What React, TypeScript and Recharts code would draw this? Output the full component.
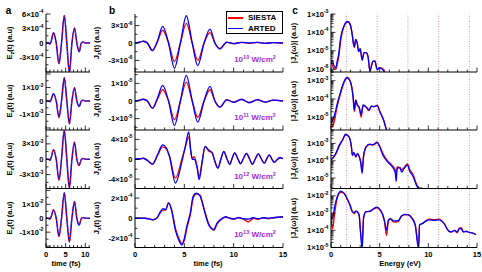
import { LineChart, Line, XAxis, YAxis, ReferenceLine } from 'recharts'

const FONT = '"Liberation Sans", Arial, Helvetica, sans-serif'
const RED = '#ff0000'
const BLUE = '#0000ff'
const PURPLE = '#9b30d9'

// ---- a: driving field E_z(t) (same pulse in both codes) ----
const timeA = [0, 0.6, 1.0, 1.3, 1.9, 2.6, 3.3, 3.95, 4.65, 5.3, 5.95, 6.6, 7.25, 7.85, 8.45, 9.0, 9.5, 10.0, 11.2]
const fieldA10 = [0, 0, -2e-5, 3e-5, 2.1e-4, 0, -4.3e-4, 0, 5.7e-4, 0, -6.2e-4, 0, 3.1e-4, 0, -1.8e-4, 0, 2e-5, 0, 0]
const fieldA11 = [0, 0, -5e-5, 1e-4, 5.4e-4, 0, -1.21e-3, 0, 1.72e-3, 0, -1.7e-3, 0, 9.8e-4, 0, -4e-4, 0, 5e-5, 0, 0]
const fieldA12 = [0, 0, -2e-4, 3e-4, 1.86e-3, 0, -4.1e-3, 0, 5.7e-3, 0, -5.6e-3, 0, 3.3e-3, 0, -1.2e-3, 0, 1.5e-4, 0, 0]
const fieldA13 = [0, 0, -6e-4, 1e-3, 6e-3, 0, -1.3e-2, 0, 1.83e-2, 0, -1.7e-2, 0, 1.2e-2, 0, -4.9e-3, 0, 5e-4, 0, 0]

// ---- b: current J_z(t) ----
const timeB = [0, 0.5, 0.85, 1.25, 1.77, 2.27, 2.8, 3.4, 4.0, 4.6, 5.2, 5.8, 6.36, 7.0, 7.6, 8.1, 8.6, 9.3, 10.0, 10.8, 11.6, 12.4, 13.2, 14.0, 15]
const siestaB10 = [0, 0.15e-6, 0.3e-6, 0, -1.3e-6, 0.2e-6, 2.2e-6, 0, -3.2e-6, 0, 3.4e-6, 0, -3.0e-6, 0, 1.8e-6, 0, -1.0e-6, 0.1e-6, -0.1e-6, 0.1e-6, -0.05e-6, 0.1e-6, -0.05e-6, 0.05e-6, 0]
const artedB10 = [0, 0.15e-6, 0.3e-6, 0, -1.3e-6, 0.3e-6, 2.85e-6, 0, -4.35e-6, 0, 4.7e-6, 0, -3.9e-6, 0, 2.4e-6, 0, -1.0e-6, 0.15e-6, -0.1e-6, 0.1e-6, 0, 0.1e-6, -0.05e-6, 0.05e-6, 0]
const siestaB11 = [0, 0.05e-5, 0.1e-5, 0, -0.41e-5, 0.1e-5, 0.64e-5, 0, -1.06e-5, 0, 1.07e-5, 0, -0.93e-5, 0, 0.64e-5, 0, -0.35e-5, 0.05e-5, -0.05e-5, 0.08e-5, -0.08e-5, 0.06e-5, -0.06e-5, 0.05e-5, 0]
const artedB11 = [0, 0.05e-5, 0.1e-5, 0, -0.41e-5, 0.15e-5, 0.89e-5, 0, -1.4e-5, 0, 1.46e-5, 0, -1.2e-5, 0, 0.83e-5, 0, -0.35e-5, 0.08e-5, -0.08e-5, 0.1e-5, -0.1e-5, 0.08e-5, -0.06e-5, 0.05e-5, 0]

const timeB12 = [0, 0.5, 0.85, 1.3, 1.77, 2.3, 2.8, 3.2, 3.5, 4.1, 4.75, 5.1, 5.45, 5.65, 5.8, 6.0, 6.3, 6.5, 6.8, 7.1, 7.5, 7.8, 8.1, 8.4, 8.7, 9.0, 9.3, 9.6, 9.85, 10.1, 10.4, 10.7, 11.0, 11.3, 11.6, 11.9, 12.2, 12.5, 12.8, 13.1, 13.35, 13.6, 13.85, 14.1, 14.4, 14.7, 15]
const siestaB12 = [0, 0.1e-5, 0.2e-5, -0.3e-5, -1.0e-5, 0.8e-5, 2.5e-5, 2.0e-5, 0.6e-5, -3.8e-5, 0, 2.4e-5, 4.5e-5, 1.6e-5, 0.2e-5, 0.5e-5, -1.5e-5, -3.5e-5, -0.5e-5, 2.5e-5, 1.6e-5, 1.3e-5, -0.5e-5, -1.8e-5, 0, 1.5e-5, 0.2e-5, -1.0e-5, 0.2e-5, 1.3e-5, 0.2e-5, -0.9e-5, 0.2e-5, 1.2e-5, 0.1e-5, -1.0e-5, 0.1e-5, 1.1e-5, 0.1e-5, -0.8e-5, 0.1e-5, 0.9e-5, 0.1e-5, -0.6e-5, -0.1e-5, 0.3e-5, 0.1e-5]
const artedB12 = [0, 0.1e-5, 0.2e-5, -0.3e-5, -1.0e-5, 1.0e-5, 2.9e-5, 2.2e-5, 0.5e-5, -4.8e-5, -0.5e-5, 2.6e-5, 5.5e-5, 1.8e-5, 0, 0, -1.8e-5, -4.1e-5, -0.7e-5, 2.6e-5, 1.8e-5, 1.4e-5, -0.4e-5, -1.8e-5, 0, 1.6e-5, 0.2e-5, -1.0e-5, 0.2e-5, 1.3e-5, 0.2e-5, -0.9e-5, 0.2e-5, 1.2e-5, 0.1e-5, -1.0e-5, 0.1e-5, 1.1e-5, 0.1e-5, -0.8e-5, 0.1e-5, 0.9e-5, 0.1e-5, -0.6e-5, -0.1e-5, 0.3e-5, 0.1e-5]

const timeB13 = [0, 1.0, 1.5, 1.8, 2.2, 2.6, 2.85, 3.1, 3.4, 3.7, 4.1, 4.45, 4.75, 5.0, 5.25, 5.6, 5.9, 6.2, 6.6, 6.85, 7.1, 7.5, 8.0, 8.3, 8.7, 9.2, 9.6, 10.0, 10.5, 11.0, 11.5, 12.0, 12.5, 13.0, 13.5, 14.0, 14.5, 15]
const siestaB13 = [0, 0, -0.08e-4, -0.15e-4, 0, 0.6e-4, 0.8e-4, 0.8e-4, 1.55e-4, 0.9e-4, -1.0e-4, -2.0e-4, -2.5e-4, -2.2e-4, -1.0e-4, 0.3e-4, 2.0e-4, 2.4e-4, 2.3e-4, 1.5e-4, 0.6e-4, -0.6e-4, -1.2e-4, -0.6e-4, -0.15e-4, 0.1e-4, 0, -0.1e-4, 0.08e-4, -0.1e-4, -0.35e-4, 0, -0.1e-4, 0.05e-4, -0.05e-4, 0.05e-4, 0.1e-4, 0.12e-4]
const artedB13 = [0, 0, -0.08e-4, -0.15e-4, 0, 0.7e-4, 0.95e-4, 0.85e-4, 1.5e-4, 0.8e-4, -1.2e-4, -2.2e-4, -2.65e-4, -2.0e-4, -0.8e-4, 0.5e-4, 2.2e-4, 2.5e-4, 2.2e-4, 1.4e-4, 0.5e-4, -0.7e-4, -1.1e-4, -0.5e-4, -0.1e-4, 0.15e-4, 0, -0.05e-4, 0.05e-4, -0.05e-4, -0.08e-4, 0.05e-4, -0.05e-4, 0.05e-4, 0, 0.05e-4, 0.1e-4, 0.15e-4]

// ---- c: spectra |J_z(w)| ----
const harmonics = [1.58, 4.74, 7.9, 11.06, 14.22]

const energyC10 = [0, 0.15, 0.3, 0.5, 0.65, 0.8, 0.96, 1.13, 1.37, 1.71, 1.99, 2.16, 2.33, 2.4, 2.54, 2.7, 2.84, 3.0, 3.2, 3.4, 3.6, 3.8, 4.0, 4.3, 4.5, 4.75, 5.0, 5.4, 5.7]
const siestaC10 = [2.6e-6, 1.5e-6, 1.1e-6, 1e-6, 2e-6, 5e-6, 2.5e-5, 9e-5, 2.3e-4, 3.8e-4, 2.5e-4, 9e-5, 2.1e-5, 1.5e-5, 4e-5, 2.5e-5, 9e-6, 1.3e-5, 3e-6, 8e-6, 8e-6, 5e-6, 8e-7, 2.6e-6, 2.8e-6, 1e-6, 1.2e-6, 1e-6, 3e-7]
const artedC10 = [2e-6, 3e-6, 1.5e-6, 1.2e-6, 3e-6, 7e-6, 3.9e-5, 1.1e-4, 2.5e-4, 3.9e-4, 2.5e-4, 9e-5, 2.1e-5, 1.7e-5, 4.2e-5, 2.5e-5, 9e-6, 1.3e-5, 3.2e-6, 8e-6, 8e-6, 5e-6, 8e-7, 2.6e-6, 2.8e-6, 9e-7, 1.2e-6, 8e-7, 3e-7]

const energyC11 = [0, 0.15, 0.3, 0.45, 0.66, 0.96, 1.3, 1.65, 2.0, 2.27, 2.4, 2.54, 2.7, 2.9, 3.1, 3.3, 3.65, 3.9, 4.15, 4.4, 4.75, 5.0, 5.4, 5.65, 5.9]
const siestaC11 = [9e-6, 3e-6, 5e-6, 1.2e-5, 4.5e-5, 1.8e-4, 7e-4, 1.45e-3, 8.6e-4, 1.3e-4, 2e-5, 8.5e-5, 4.5e-5, 3.2e-5, 1e-5, 4.5e-5, 3.3e-5, 2.3e-5, 4e-5, 3.8e-5, 4.3e-5, 2e-5, 7e-6, 2.5e-6, 1e-6]
const artedC11 = [9e-6, 6e-6, 1.1e-5, 2e-5, 6e-5, 2.2e-4, 8e-4, 1.5e-3, 8.6e-4, 1.3e-4, 2.5e-5, 8.9e-5, 4.8e-5, 3.5e-5, 1.4e-5, 4.8e-5, 3.5e-5, 2.5e-5, 4e-5, 3.8e-5, 4.5e-5, 2.2e-5, 7e-6, 2.5e-6, 1e-6]

const energyC12 = [0, 0.15, 0.5, 0.85, 1.2, 1.5, 1.85, 2.1, 2.2, 2.35, 2.55, 2.7, 2.9, 3.05, 3.2, 3.35, 3.6, 3.95, 4.3, 4.75, 5.0, 5.35, 5.8, 6.1, 6.4, 6.6, 6.7, 6.8, 7.1, 7.25, 7.5, 7.85, 8.1, 8.45, 8.75, 9.0, 9.3, 9.6]
const siestaC12 = [1.1e-4, 1.3e-4, 2.5e-4, 7e-4, 1.6e-3, 3e-3, 2.4e-3, 6e-4, 2e-4, 2.8e-4, 1.7e-4, 2.5e-4, 1.7e-4, 9e-5, 3e-5, 2e-4, 6e-4, 8.5e-4, 8e-4, 1.1e-3, 7e-4, 2.5e-4, 1e-4, 7e-5, 4.5e-5, 3e-5, 1.5e-5, 4.5e-5, 4e-5, 3e-5, 4e-5, 6.5e-5, 3e-5, 1.5e-5, 5e-6, 2.5e-6, 1.5e-6, 1e-6]
const artedC12 = [1.2e-4, 1.4e-4, 2.7e-4, 8e-4, 1.7e-3, 3.4e-3, 2.4e-3, 6.4e-4, 2.1e-4, 3e-4, 1.7e-4, 2.6e-4, 1.8e-4, 8e-5, 1.9e-5, 1.9e-4, 6.4e-4, 9e-4, 8.5e-4, 1.2e-3, 6.4e-4, 2e-4, 8.9e-5, 6e-5, 3.7e-5, 2e-5, 6.4e-6, 4e-5, 3.7e-5, 2.2e-5, 3.5e-5, 5.7e-5, 2.4e-5, 1.2e-5, 4.2e-6, 2.5e-6, 2.7e-6, 1e-6]

const energyC13 = [0, 0.15, 0.4, 0.65, 1.0, 1.35, 1.7, 1.95, 2.2, 2.4, 2.55, 2.7, 2.9, 3.0, 3.2, 3.35, 3.6, 3.85, 4.1, 4.45, 4.7, 5.0, 5.3, 5.5, 5.7, 5.9, 6.1, 6.45, 6.9, 7.25, 7.6, 7.9, 8.3, 8.65, 9.0, 9.1, 9.4, 9.8, 10.1, 10.6, 11.1, 11.6, 12.1, 12.4, 12.7, 12.95, 13.2, 13.4, 13.6, 13.9, 14.2, 14.5, 14.9]
const siestaC13 = [6.3e-4, 1.2e-4, 1.2e-3, 8e-3, 1.6e-2, 1.4e-2, 6e-3, 2.9e-3, 1.2e-3, 9e-4, 1.3e-3, 1.2e-3, 7e-4, 1.2e-4, 2e-5, 6e-4, 1.2e-3, 1.2e-3, 1.3e-3, 1.8e-3, 2e-3, 1.6e-3, 8e-4, 3e-4, 5e-5, 3.5e-4, 4.5e-4, 3e-4, 3.2e-4, 6.5e-4, 8e-4, 8e-4, 5.5e-4, 2.2e-4, 1.5e-5, 2e-4, 2.5e-4, 3.8e-4, 4.5e-4, 4e-4, 4.5e-4, 2.6e-4, 9e-5, 8e-5, 1e-4, 7e-5, 1.3e-4, 1.4e-4, 8e-5, 9e-5, 7.5e-5, 7e-5, 5.5e-5]
const artedC13 = [6.3e-4, 5e-4, 2.7e-3, 9.2e-3, 1.9e-2, 1.4e-2, 6.1e-3, 2.9e-3, 1.2e-3, 1.1e-3, 1.3e-3, 1.2e-3, 7.2e-4, 1.5e-4, 8e-6, 5e-4, 1.2e-3, 1.25e-3, 1.4e-3, 1.9e-3, 2.2e-3, 1.7e-3, 8.5e-4, 3.5e-4, 1e-4, 4e-4, 4.8e-4, 3.5e-4, 3.6e-4, 7e-4, 8.5e-4, 8e-4, 5e-4, 2e-4, 8e-6, 2e-4, 2.5e-4, 3.5e-4, 4e-4, 3.8e-4, 4e-4, 2.5e-4, 9e-5, 8e-5, 1e-4, 8e-5, 1.3e-4, 1.2e-4, 8e-5, 8.5e-5, 7.5e-5, 7e-5, 5.5e-5]

const intensityExp = ['10', '11', '12', '13']

// ---- ticks ----
const ticksA = [0, 1, 2, 3, 4, 5, 6, 7, 8, 9, 10, 11]
const majorA = [0, 5, 10]
const ticks15 = [0, 1, 2, 3, 4, 5, 6, 7, 8, 9, 10, 11, 12, 13, 14, 15]
const major15 = [0, 5, 10, 15]

type Row = Record<string, number>
const table = (xs: number[], cols: Record<string, number[]>): Row[] =>
  xs.map((x, i) => {
    const o: Row = { x }
    Object.keys(cols).forEach(k => { o[k] = cols[k][i] })
    return o
  })

function logTicks(lo: number, hi: number) {
  const out: number[] = []
  for (let e = Math.floor(Math.log10(lo)) - 1; e <= Math.ceil(Math.log10(hi)); e++) {
    for (let m = 1; m <= 9; m++) {
      const v = Number((m * Math.pow(10, e)).toPrecision(6))
      if (v >= lo * 0.999 && v <= hi * 1.001) out.push(v)
    }
  }
  return out
}

const isIn = (v: number, arr: number[]) =>
  arr.some(a => Math.abs(a - v) <= Math.abs(a) * 1e-6 + 1e-18)

interface Series { key: string; color: string; width: number; dash?: string }
interface PanelSpec {
  left: number; top: number; w: number; h: number
  data: Row[]
  series: Series[]
  xDomain: [number, number]; xTicks: number[]; xMajor: number[]; xLabels?: number[]
  yDomain: [number, number]; yTicks: number[]; yMajor: number[]; yLabels: number[]
  log?: boolean
  vlines?: number[]
}

function YLabelText({ x, y, v }: { x: number; y: number; v: number }) {
  if (v === 0) {
    return <text x={x} y={y} textAnchor="end" dominantBaseline="central" fontSize={7.5} fontWeight="bold" fill="#000" fontFamily={FONT}>0</text>
  }
  const e = Math.floor(Math.log10(Math.abs(v)) + 1e-9)
  const m = Math.round(v / Math.pow(10, e))
  return (
    <text x={x} y={y} textAnchor="end" dominantBaseline="central" fontSize={7.5} fontWeight="bold" fill="#000" fontFamily={FONT}>
      {m}×10<tspan dy={-3} fontSize={5.2}>{e}</tspan>
    </text>
  )
}

const COLS = { a: { left: 46, w: 44 }, b: { left: 135, w: 148 }, c: { left: 331, w: 146 } }
const ROWS = [{ top: 14, h: 58 }, { top: 72, h: 58 }, { top: 130, h: 58.5 }, { top: 188.5, h: 58.5 }]

function Panel({ p }: { p: PanelSpec }) {
  const W = 48, T = 10, R = 8
  const B = p.xLabels ? 16 : 8
  const width = W + p.w + R
  const height = T + p.h + B
  const ln = { stroke: '#000', strokeWidth: 0.8 }
  const xLen = (v: number) => (isIn(v, p.xMajor) ? 4.5 : 2.5)
  const yLen = (v: number) => (isIn(v, p.yMajor) ? 4.5 : 2.5)

  const tickBottom = (t: any) => {
    const v = t.payload.value
    return (
      <g>
        <line x1={t.x} x2={t.x} y1={t.y} y2={t.y - xLen(v)} {...ln} />
        {p.xLabels && isIn(v, p.xLabels) && (
          <text x={t.x} y={t.y + 6.5} textAnchor="middle" dominantBaseline="central" fontSize={7.5} fontWeight="bold" fill="#000" fontFamily={FONT}>{v}</text>
        )}
      </g>
    )
  }
  const tickTop = (t: any) => (
    <line x1={t.x} x2={t.x} y1={t.y} y2={t.y + xLen(t.payload.value)} {...ln} />
  )
  const tickLeft = (t: any) => {
    const v = t.payload.value
    return (
      <g>
        <line x1={t.x} x2={t.x + yLen(v)} y1={t.y} y2={t.y} {...ln} />
        {isIn(v, p.yLabels) && <YLabelText x={t.x - 2.5} y={t.y} v={v} />}
      </g>
    )
  }
  const tickRight = (t: any) => (
    <line x1={t.x} x2={t.x - yLen(t.payload.value)} y1={t.y} y2={t.y} {...ln} />
  )
  const scale = p.log ? 'log' : 'linear'
  const axisLine = { stroke: '#000', strokeWidth: 1 }

  return (
    <div style={{ position: 'absolute', left: p.left - W, top: p.top - T }}>
      <LineChart width={width} height={height} data={p.data} margin={{ top: T, right: R, bottom: 0, left: 0 }}>
        <XAxis xAxisId="b" dataKey="x" type="number" domain={p.xDomain} ticks={p.xTicks} interval={0}
          allowDataOverflow height={B} tickSize={0} tickMargin={0} tickLine={false} axisLine={axisLine} tick={tickBottom} />
        <XAxis xAxisId="t" dataKey="x" orientation="top" type="number" domain={p.xDomain} ticks={p.xTicks} interval={0}
          allowDataOverflow height={0} tickSize={0} tickMargin={0} tickLine={false} axisLine={axisLine} tick={tickTop} />
        <YAxis yAxisId="l" type="number" scale={scale} domain={p.yDomain} ticks={p.yTicks} interval={0}
          allowDataOverflow width={W} tickSize={0} tickMargin={0} tickLine={false} axisLine={axisLine} tick={tickLeft} />
        <YAxis yAxisId="r" orientation="right" type="number" scale={scale} domain={p.yDomain} ticks={p.yTicks} interval={0}
          allowDataOverflow width={0} tickSize={0} tickMargin={0} tickLine={false} axisLine={axisLine} tick={tickRight} />
        {(p.vlines || []).map(h => (
          <ReferenceLine key={h} x={h} xAxisId="b" yAxisId="l" stroke="#e07a7a" strokeWidth={0.8} strokeDasharray="1 1.5" />
        ))}
        {p.series.map((s, i) => (
          <Line key={i} xAxisId="b" yAxisId="l" dataKey={s.key} type="monotone" stroke={s.color} strokeWidth={s.width}
            strokeDasharray={s.dash} dot={false} activeDot={false} isAnimationActive={false} />
        ))}
      </LineChart>
    </div>
  )
}

const fieldSeries: Series[] = [
  { key: 'e', color: BLUE, width: 1.5 },
  { key: 'e', color: RED, width: 1.1, dash: '2 2' },
]
const codeSeries: Series[] = [
  { key: 'sie', color: RED, width: 1.3 },
  { key: 'art', color: BLUE, width: 1.3 },
]

const aFields = [fieldA10, fieldA11, fieldA12, fieldA13]
const aDomains: [number, number][] = [[-6e-4, 6e-4], [-2.15e-3, 2.15e-3], [-5.7e-3, 5.7e-3], [-2.1e-2, 2.1e-2]]
const aTicks = [
  [-6e-4, -4.5e-4, -3e-4, -1.5e-4, 0, 1.5e-4, 3e-4, 4.5e-4, 6e-4],
  [-2e-3, -1.5e-3, -1e-3, -5e-4, 0, 5e-4, 1e-3, 1.5e-3, 2e-3],
  [-4.5e-3, -3e-3, -1.5e-3, 0, 1.5e-3, 3e-3, 4.5e-3],
  [-2e-2, -1.5e-2, -1e-2, -5e-3, 0, 5e-3, 1e-2, 1.5e-2, 2e-2],
]
const aMajor = [[-6e-4, -3e-4, 0, 3e-4, 6e-4], [-2e-3, -1e-3, 0, 1e-3, 2e-3], [-3e-3, 0, 3e-3], [-2e-2, -1e-2, 0, 1e-2, 2e-2]]
const aLabels = [[6e-4, 3e-4, 0, -3e-4], [1e-3, 0, -1e-3], [3e-3, 0, -3e-3], [1e-2, 0, -1e-2]]

const bTables = [
  table(timeB, { sie: siestaB10, art: artedB10 }),
  table(timeB, { sie: siestaB11, art: artedB11 }),
  table(timeB12, { sie: siestaB12, art: artedB12 }),
  table(timeB13, { sie: siestaB13, art: artedB13 }),
]
const bDomains: [number, number][] = [[-5e-6, 5e-6], [-1.65e-5, 1.65e-5], [-5.9e-5, 5.9e-5], [-2.9e-4, 2.9e-4]]
const bTicks = [
  [-4.5e-6, -3e-6, -1.5e-6, 0, 1.5e-6, 3e-6, 4.5e-6],
  [-1.5e-5, -1e-5, -5e-6, 0, 5e-6, 1e-5, 1.5e-5],
  [-4e-5, -2e-5, 0, 2e-5, 4e-5],
  [-2e-4, -1e-4, 0, 1e-4, 2e-4],
]
const bMajor = [[-3e-6, 0, 3e-6], [-1e-5, 0, 1e-5], [-4e-5, 0, 4e-5], [-2e-4, 0, 2e-4]]

const cTables = [
  table(energyC10, { sie: siestaC10, art: artedC10 }),
  table(energyC11, { sie: siestaC11, art: artedC11 }),
  table(energyC12, { sie: siestaC12, art: artedC12 }),
  table(energyC13, { sie: siestaC13, art: artedC13 }),
]
const cDomains: [number, number][] = [[7e-7, 1e-3], [2e-6, 3e-3], [2.5e-6, 6e-3], [1e-5, 2.5e-2]]
const cLabels = [[1e-6, 1e-5, 1e-4, 1e-3], [1e-5, 1e-4, 1e-3], [1e-5, 1e-4, 1e-3], [1e-5, 1e-4, 1e-3, 1e-2]]

const panels: PanelSpec[] = []
ROWS.forEach((r, i) => {
  const last = i === 3
  panels.push({
    ...COLS.a, top: r.top, h: r.h, data: table(timeA, { e: aFields[i] }), series: fieldSeries,
    xDomain: [0, 11.2], xTicks: ticksA, xMajor: majorA, xLabels: last ? majorA : undefined,
    yDomain: aDomains[i], yTicks: aTicks[i], yMajor: aMajor[i], yLabels: aLabels[i],
  })
  panels.push({
    ...COLS.b, top: r.top, h: r.h, data: bTables[i], series: codeSeries,
    xDomain: [0, 15], xTicks: ticks15, xMajor: major15, xLabels: last ? major15 : undefined,
    yDomain: bDomains[i], yTicks: bTicks[i], yMajor: bMajor[i], yLabels: bMajor[i],
  })
  panels.push({
    ...COLS.c, top: r.top, h: r.h, data: cTables[i], series: codeSeries, log: true, vlines: harmonics,
    xDomain: [0, 15], xTicks: ticks15, xMajor: major15, xLabels: last ? major15 : undefined,
    yDomain: cDomains[i], yTicks: logTicks(cDomains[i][0], cDomains[i][1]), yMajor: cLabels[i], yLabels: cLabels[i],
  })
})

const sub = (s: string) => <span style={{ fontSize: 5.5, position: 'relative', top: 1.5 }}>{s}</span>
const sup = (s: string) => <span style={{ fontSize: 5.5, position: 'relative', top: -3 }}>{s}</span>

function VLabel({ cx, cy, children }: { cx: number; cy: number; children: any }) {
  return (
    <div style={{
      position: 'absolute', left: cx, top: cy, transform: 'translate(-50%, -50%) rotate(-90deg)',
      whiteSpace: 'nowrap', fontSize: 7.5, fontWeight: 'bold', lineHeight: 1,
    }}>{children}</div>
  )
}

function Abs({ x, y, size, color, children }: any) {
  return (
    <div style={{
      position: 'absolute', left: x, top: y, whiteSpace: 'nowrap', fontSize: size, fontWeight: 'bold',
      color: color || '#000', lineHeight: 1, transform: 'translate(-50%, -50%)',
    }}>{children}</div>
  )
}

export default function App() {
  return (
    <div style={{ position: 'absolute', left: 0, top: 0, width: 482, height: 272, background: '#fff', fontFamily: FONT, overflow: 'hidden' }}>
      <style>{'.recharts-surface{overflow:visible}'}</style>
      {panels.map((p, i) => <Panel key={i} p={p} />)}

      {ROWS.map((r, i) => {
        const cy = r.top + r.h / 2
        return (
          <div key={i}>
            <VLabel cx={10} cy={cy}>E{sub('z')}(t) (a.u)</VLabel>
            <VLabel cx={97} cy={cy}>J{sub('z')}(t) (a.u)</VLabel>
            <VLabel cx={294} cy={cy}>|J{sub('z')}(ω)| (a.u)</VLabel>
            <Abs x={255} y={r.top + r.h - 12} size={8} color={PURPLE}>
              10{sup(intensityExp[i])} W/cm{sup('2')}
            </Abs>
          </div>
        )
      })}

      <Abs x={8.5} y={11} size={10}>a</Abs>
      <Abs x={112} y={11} size={10}>b</Abs>
      <Abs x={295} y={11} size={10}>c</Abs>

      <Abs x={66} y={264} size={7.5}>time (fs)</Abs>
      <Abs x={208} y={264} size={7.5}>time (fs)</Abs>
      <Abs x={400} y={264} size={7.5}>Energy (eV)</Abs>

      <div style={{
        position: 'absolute', left: 226, top: 11, width: 55, height: 21, border: '1px solid #000',
        background: '#fff', fontSize: 8, fontWeight: 'bold',
      }}>
        {[{ c: RED, t: 'SIESTA' }, { c: BLUE, t: 'ARTED' }].map((it, i) => (
          <div key={i} style={{ position: 'absolute', left: 1, top: 1 + i * 10.5, height: 10, display: 'flex', alignItems: 'center' }}>
            <div style={{ width: 15, height: 1.5, background: it.c, marginRight: 5 }} />
            <span style={{ lineHeight: 1 }}>{it.t}</span>
          </div>
        ))}
      </div>
    </div>
  )
}
